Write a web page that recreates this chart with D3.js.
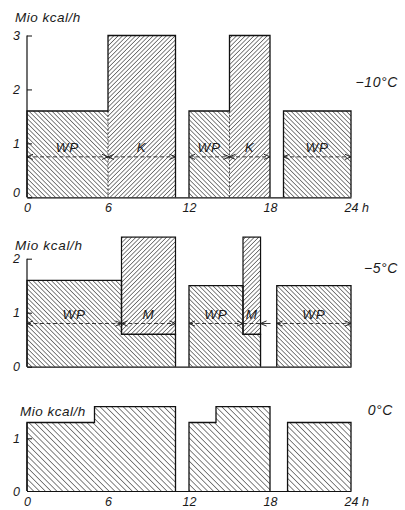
<!DOCTYPE html>
<html><head><meta charset="utf-8">
<script src="https://cdn.jsdelivr.net/npm/d3@7"></script>
<style>
html,body{margin:0;padding:0;background:#fff;}
svg text{font-family:"Liberation Sans",Arial,sans-serif;font-style:italic;fill:#1a1a1a;}
</style></head>
<body><svg id="c" width="405" height="510"></svg>
<script>
// ---- data ----
const hourTicks = [0, 6, 12, 18, 24];
const unitLabel = "Mio kcal/h";
const tempLabels = ["−10°C", "−5°C", "0°C"];

// panel 1 (−10 °C): blocks
const p1Start = [0, 6, 12, 15, 19];
const p1End   = [6, 11, 15, 18, 24];
const p1Value = [1.6, 3.0, 1.6, 3.0, 1.6];
const p1Kind  = ["WP", "K", "WP", "K", "WP"];
const p1YTicks = [0, 1, 2, 3];
const p1ArrowLevel = 0.75;

// panel 2 (−5 °C): WP blocks and M blocks
const p2WpStart = [0, 7, 12, 16, 18.5];
const p2WpEnd   = [7, 11, 16, 17.3, 24];
const p2WpValue = [1.6, 0.6, 1.5, 0.6, 1.5];
const p2MStart  = [7, 16];
const p2MEnd    = [11, 17.3];
const p2MBottom = [0.6, 0.6];
const p2MTop    = [2.4, 2.4];
const p2YTicks = [0, 1, 2];
const p2ArrowLevel = 0.8;
const p2ArrowStart = [0, 7, 12, 16, 18.5];
const p2ArrowEnd   = [7, 11, 16, 17.3, 24];
const p2ArrowLabel = ["WP", "M", "WP", "M", "WP"];
const p2ArrowEndStyle = ["out", "out", "out", "in", "out"];
const p2ArrowStartStyle = ["out", "out", "out", "none", "out"];

// panel 3 (0 °C)
const p3Start = [0, 5, 12, 14, 19.3];
const p3End   = [5, 11, 14, 18, 24];
const p3Value = [1.3, 1.6, 1.3, 1.6, 1.3];
const p3YTicks = [0, 1];

// ---- drawing ----
const svg = d3.select("#c");
const x = d3.scaleLinear().domain([0, 24]).range([27, 351]);
const y1 = d3.scaleLinear().domain([0, 3]).range([197.3, 35.5]);
const y2 = d3.scaleLinear().domain([0, 2]).range([366.7, 258.7]);
const y3 = d3.scaleLinear().domain([0, 1]).range([491, 438.3]);

const defs = svg.append("defs");
function hatch(id, angle, s) {
  const p = defs.append("pattern").attr("id", id).attr("patternUnits", "userSpaceOnUse")
    .attr("width", s).attr("height", s).attr("patternTransform", `rotate(${angle})`);
  p.append("rect").attr("x", 0).attr("y", 0).attr("width", 0.7).attr("height", s).attr("fill", "#505050");
}
hatch("back", -45, 3.25);   // "\\\" (WP)
hatch("fwd", 45, 3.1);      // "///" (K, M)
hatch("back3", -45, 4.1);

function groupsOf(start, end, value) {
  const groups = [];
  start.forEach((s, i) => {
    const b = [s, end[i], value[i], i];
    const g = groups[groups.length - 1];
    if (g && Math.abs(g[g.length - 1][1] - s) < 1e-9) g.push(b); else groups.push([b]);
  });
  return groups;
}
function outline(g, ys) {
  const pts = [[g[0][0], 0]];
  g.forEach(b => { pts.push([b[0], b[2]]); pts.push([b[1], b[2]]); });
  pts.push([g[g.length - 1][1], 0]);
  return d3.line().x(d => x(d[0])).y(d => ys(d[1]))(pts);
}

function axes(ys, ticks, top, showX, xPad) {
  const ya = svg.append("g").attr("transform", `translate(${x(0)},0)`)
    .call(d3.axisLeft(ys).tickValues(ticks).tickSizeInner(-5).tickSizeOuter(0).tickPadding(7).tickFormat(d3.format("d")));
  ya.select(".domain").attr("d", `M0,${ys(0)}V${ys(top)}`).attr("stroke", "#111").attr("stroke-width", 1.2);
  ya.selectAll(".tick line").attr("stroke", "#111").attr("stroke-width", 1);
  ya.selectAll("text").attr("font-size", 12.5).attr("font-family", null);
  const xa = svg.append("g").attr("transform", `translate(0,${ys(0)})`)
    .call(d3.axisBottom(x).tickValues(hourTicks).tickSize(0).tickPadding(xPad).tickFormat(d => d === 24 ? "24 h" : d));
  xa.select(".domain").attr("stroke", "#111").attr("stroke-width", 1.2);
  xa.selectAll("text").attr("font-size", 12.5).attr("font-family", null)
    .attr("text-anchor", d => d === 24 ? "start" : "middle")
    .attr("dx", d => d === 24 ? -7 : 0)
    .style("display", showX ? null : "none");
  return ya;
}

function arrowSeg(g, ys, level, a, b, label, sStyle, eStyle) {
  const yy = ys(level);
  g.append("line").attr("x1", x(a)).attr("x2", x(b)).attr("y1", yy).attr("y2", yy)
    .attr("stroke", "#222").attr("stroke-width", 0.9).attr("stroke-dasharray", "4,2.5");
  const head = (tx, dir) => g.append("path")
    .attr("d", `M${tx + dir * 6},${yy - 2.6}L${tx},${yy}L${tx + dir * 6},${yy + 2.6}`)
    .attr("fill", "none").attr("stroke", "#222").attr("stroke-width", 1);
  if (sStyle === "out") head(x(a), 1);
  if (eStyle === "out") head(x(b), -1);
  if (eStyle === "in") {
    head(x(b), 1);
    g.append("line").attr("x1", x(b)).attr("x2", x(b) + 10).attr("y1", yy).attr("y2", yy)
      .attr("stroke", "#222").attr("stroke-width", 0.9);
  }
  g.append("text").attr("x", (x(a) + x(b)) / 2).attr("y", yy - 4.5).attr("text-anchor", "middle")
    .attr("font-size", 13.5).attr("letter-spacing", 0.8).text(label);
}

// ===== Panel 1 =====
{
  const g = svg.append("g");
  p1Start.forEach((s, i) => {
    g.append("rect").attr("x", x(s)).attr("width", x(p1End[i]) - x(s))
      .attr("y", y1(p1Value[i])).attr("height", y1(0) - y1(p1Value[i]))
      .attr("fill", p1Kind[i] === "WP" ? "url(#back)" : "url(#fwd)");
  });
  groupsOf(p1Start, p1End, p1Value).forEach(gr => {
    g.append("path").attr("d", outline(gr, y1)).attr("fill", "none").attr("stroke", "#111").attr("stroke-width", 1.3);
    for (let k = 1; k < gr.length; k++) {
      const h = Math.min(gr[k - 1][2], gr[k][2]);
      g.append("line").attr("x1", x(gr[k][0])).attr("x2", x(gr[k][0])).attr("y1", y1(0)).attr("y2", y1(h))
        .attr("stroke", "#222").attr("stroke-width", 0.8).attr("stroke-dasharray", "2,1.5");
    }
  });
  p1Start.forEach((s, i) => arrowSeg(g, y1, p1ArrowLevel, s, p1End[i], p1Kind[i], "out", "out"));
  const ya = axes(y1, p1YTicks, 3, true, 6);
  ya.selectAll(".tick text").filter(d => d === 0).attr("dy", "-0.1em");
  svg.append("text").attr("x", 15).attr("y", 21.5).attr("font-size", 13.5).attr("letter-spacing", 0.5).text(unitLabel);
  svg.append("text").attr("x", 398).attr("y", 86.5).attr("text-anchor", "end").attr("font-size", 14).attr("letter-spacing", 0.6).text(tempLabels[0]);
}

// ===== Panel 2 =====
{
  const g = svg.append("g");
  p2WpStart.forEach((s, i) => {
    g.append("rect").attr("x", x(s)).attr("width", x(p2WpEnd[i]) - x(s))
      .attr("y", y2(p2WpValue[i])).attr("height", y2(0) - y2(p2WpValue[i])).attr("fill", "url(#back)");
  });
  p2MStart.forEach((s, i) => {
    g.append("rect").attr("x", x(s)).attr("width", x(p2MEnd[i]) - x(s))
      .attr("y", y2(p2MTop[i])).attr("height", y2(p2MBottom[i]) - y2(p2MTop[i]))
      .attr("fill", "#fff").attr("stroke", "none");
    g.append("rect").attr("x", x(s)).attr("width", x(p2MEnd[i]) - x(s))
      .attr("y", y2(p2MTop[i])).attr("height", y2(p2MBottom[i]) - y2(p2MTop[i]))
      .attr("fill", "url(#fwd)").attr("stroke", "#111").attr("stroke-width", 1.2);
  });
  groupsOf(p2WpStart, p2WpEnd, p2WpValue).forEach(gr => {
    g.append("path").attr("d", outline(gr, y2)).attr("fill", "none").attr("stroke", "#111").attr("stroke-width", 1.3);
  });
  p2ArrowStart.forEach((s, i) => arrowSeg(g, y2, p2ArrowLevel, s, p2ArrowEnd[i], p2ArrowLabel[i], p2ArrowStartStyle[i], p2ArrowEndStyle[i]));
  axes(y2, p2YTicks, 2, false, 6);
  svg.append("text").attr("x", 15).attr("y", 250).attr("font-size", 13.5).attr("letter-spacing", 0.7).text(unitLabel);
  svg.append("text").attr("x", 398).attr("y", 272.5).attr("text-anchor", "end").attr("font-size", 14).attr("letter-spacing", 0.6).text(tempLabels[1]);
}

// ===== Panel 3 =====
{
  const g = svg.append("g");
  p3Start.forEach((s, i) => {
    g.append("rect").attr("x", x(s)).attr("width", x(p3End[i]) - x(s))
      .attr("y", y3(p3Value[i])).attr("height", y3(0) - y3(p3Value[i])).attr("fill", "url(#back3)");
  });
  groupsOf(p3Start, p3End, p3Value).forEach(gr => {
    g.append("path").attr("d", outline(gr, y3)).attr("fill", "none").attr("stroke", "#111").attr("stroke-width", 1.3);
  });
  axes(y3, p3YTicks, 1.3, true, 6.5);
  svg.append("text").attr("x", 20).attr("y", 416).attr("font-size", 13.5).attr("letter-spacing", 0.5).text(unitLabel);
  svg.append("text").attr("x", 393).attr("y", 415).attr("text-anchor", "end").attr("font-size", 14).attr("letter-spacing", 0.6).text(tempLabels[2]);
}
</script></body></html>
